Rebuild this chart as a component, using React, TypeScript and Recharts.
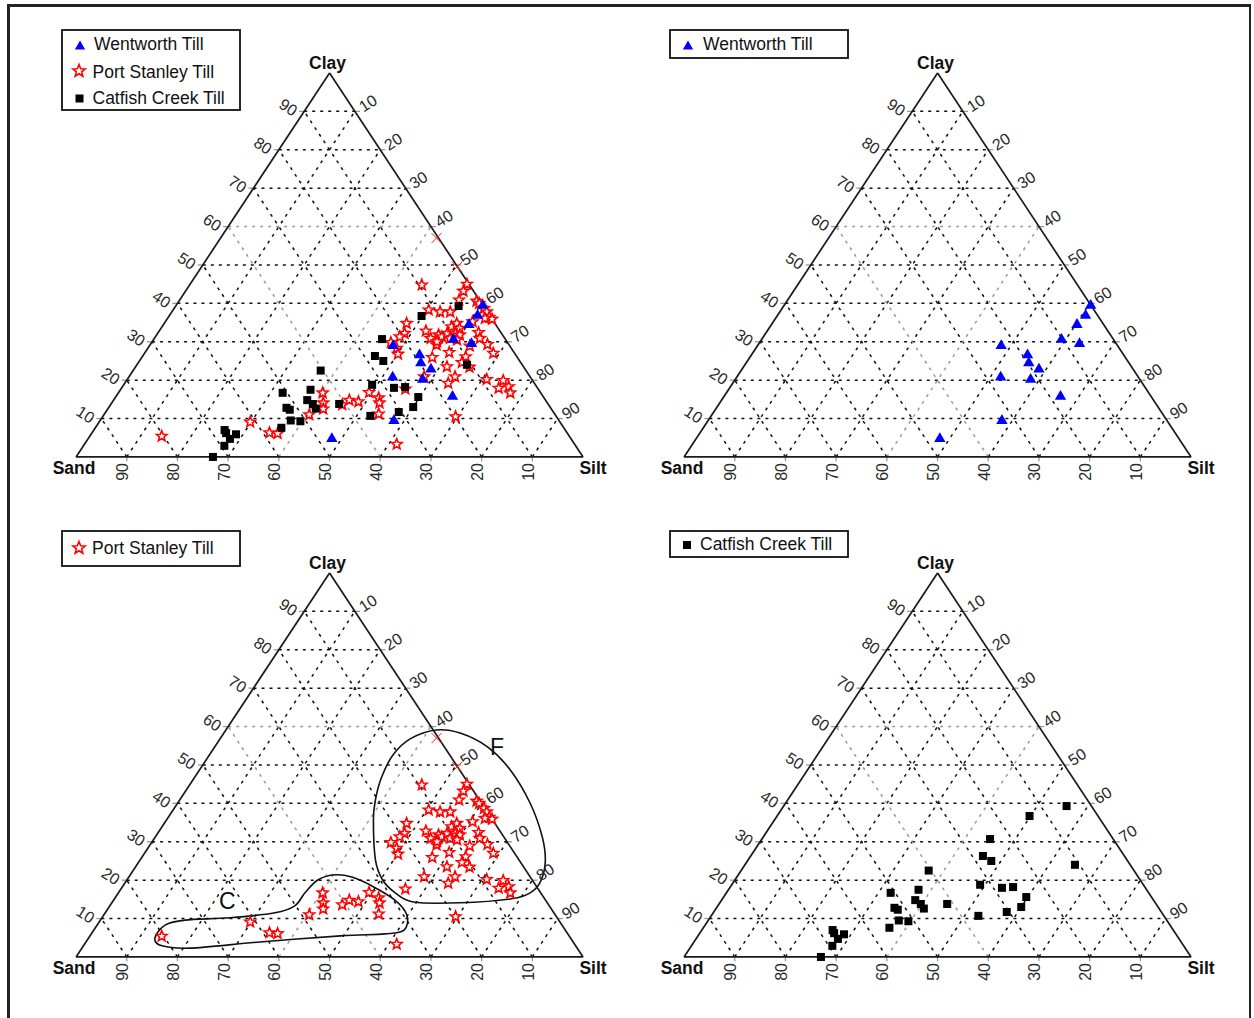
import React from 'react';
import { ScatterChart, Scatter, XAxis, YAxis, ReferenceLine } from 'recharts';

const FONT = '"Liberation Sans", Arial, Helvetica, sans-serif';

// ---------- data (ternary: [silt %, clay %]; sand = 100 - silt - clay) ----------
const GRID_STEPS = [10, 20, 30, 40, 50, 60, 70, 80, 90];
const CORNER_NAMES = ['Clay', 'Sand', 'Silt'];
const SERIES_NAMES = ['Wentworth Till', 'Port Stanley Till', 'Catfish Creek Till'];

const wentworth = [
  [60.4, 39.6], [60.7, 37.0], [60.2, 34.6], [59.1, 30.7], [63.2, 29.6], [48.0, 29.1], [54.4, 26.7],
  [55.7, 24.6], [58.5, 23.0], [52.0, 20.9], [58.2, 20.3], [66.3, 15.9], [57.9, 9.6], [48.0, 4.9],
];

const catfishCreek = [
  [55.8, 39.3], [49.8, 36.7], [45.0, 30.7], [45.8, 26.3], [48.1, 25.0], [65.1, 24.0], [37.0, 22.5],
  [49.0, 18.8], [53.7, 18.0], [55.8, 18.2], [59.7, 15.6], [45.0, 13.8], [60.0, 13.0], [57.8, 11.7],
  [52.7, 10.7], [32.4, 16.7], [37.5, 17.5], [38.2, 14.8], [39.8, 13.8], [41.0, 12.6], [35.1, 12.8],
  [36.0, 12.3], [37.6, 9.5], [39.6, 9.3], [36.7, 7.6], [25.8, 7.0], [26.5, 6.2], [28.6, 5.9],
  [28.0, 4.7], [27.8, 2.9], [27.0, 0.0],
];

const portStanley = [
  [54.6, 45.0], [54.8, 43.2], [55.1, 40.9], [45.8, 44.8], [58.7, 40.6], [59.5, 40.0], [61.1, 38.7],
  [62.1, 37.8], [63.3, 36.4], [64.1, 35.9], [62.6, 36.1], [50.4, 38.3], [52.9, 37.8], [54.9, 37.8],
  [60.6, 35.2], [47.8, 34.8], [48.7, 32.2], [48.2, 31.3], [52.6, 32.8], [54.5, 30.9], [55.6, 31.8],
  [56.5, 31.3], [57.1, 32.2], [57.1, 33.9], [57.7, 34.8], [58.9, 33.5], [58.7, 32.2], [59.8, 31.8],
  [58.3, 30.9], [59.9, 30.5], [56.5, 29.2], [56.2, 30.0], [47.2, 29.8], [49.1, 28.3], [50.1, 26.8],
  [63.2, 28.9], [63.2, 32.4], [64.2, 30.9], [66.5, 29.3], [68.8, 27.0], [60.0, 27.2], [57.3, 25.9],
  [63.8, 26.1], [63.8, 24.6], [65.9, 23.4], [61.4, 23.5], [58.2, 20.9], [64.3, 20.9], [63.8, 19.2],
  [56.1, 17.7], [70.9, 20.2], [74.3, 19.9], [74.4, 17.9], [76.2, 18.3], [77.3, 16.7], [69.6, 10.5],
  [14.2, 5.4], [29.8, 9.1], [35.0, 6.3], [36.7, 6.1], [40.5, 11.0], [40.3, 16.7], [41.7, 14.1],
  [42.5, 12.5], [45.7, 13.6], [46.5, 14.8], [48.5, 14.4], [49.4, 16.8], [52.0, 15.4], [52.8, 14.1],
  [54.1, 11.2], [61.6, 3.3],
];

const portStanleyEdge = [[42.6, 57.0], [50.4, 49.5]];

const contourF = [
  [41.5, 59.1], [46.6, 58.3], [53.8, 54.7], [61.3, 48.7], [69.5, 40.1], [76.3, 31.3], [80.2, 24.7],
  [81.8, 19.5], [81.2, 16.7], [78.1, 15.1], [68.7, 14.1], [59.4, 14.3], [54.6, 16.7], [50.4, 20.1],
  [46.4, 25.3], [40.8, 35.7], [38.6, 40.9], [36.9, 46.6], [36.2, 52.6], [37.5, 56.8],
];

const contourC = [
  [13.1, 4.9], [13.4, 8.3], [16.7, 9.6], [25.3, 10.2], [33.5, 11.5], [36.5, 13.3], [36.8, 16.7],
  [37.7, 20.1], [40.4, 21.4], [44.0, 20.8], [49.1, 18.5], [55.5, 14.8], [59.8, 10.9], [61.2, 7.0],
  [57.9, 6.0], [49.4, 5.5], [34.3, 3.9], [21.3, 2.3], [15.5, 2.9],
];

const zoneLabels = [{ name: 'F', silt: 55.7, clay: 54.7 }, { name: 'C', silt: 22.6, clay: 14.45 }];

// ---------- geometry ----------
const PX = 5.07; // px per x unit
const PY = 3.84; // px per y unit
const CHART_W = 630;
const CHART_H = 500;
const X_MIN = -15;
const X_MAX = X_MIN + CHART_W / PX;
const Y_MAX = 119;
const Y_MIN = Y_MAX - CHART_H / PY;

const toXY = (arr: number[][]) => arr.map(([silt, clay]) => ({ x: silt + clay / 2, y: clay }));

type Seg = { key: string; a: { x: number; y: number }; b: { x: number; y: number }; grey: boolean };
const GRID_LINES: Seg[] = [];
GRID_STEPS.forEach((c) => GRID_LINES.push({ key: 'c' + c, a: { x: c / 2, y: c }, b: { x: 100 - c / 2, y: c }, grey: c === 60 }));
GRID_STEPS.forEach((s) => GRID_LINES.push({ key: 's' + s, a: { x: s, y: 0 }, b: { x: s + (100 - s) / 2, y: 100 - s }, grey: s === 40 }));
GRID_STEPS.forEach((a) => GRID_LINES.push({ key: 'a' + a, a: { x: 100 - a, y: 0 }, b: { x: (100 - a) / 2, y: 100 - a }, grey: a === 40 }));

const TICK_MARKS: Seg[] = [];
GRID_STEPS.forEach((c) => TICK_MARKS.push({ key: 'tl' + c, a: { x: c / 2 - 1, y: c }, b: { x: c / 2, y: c }, grey: true }));
GRID_STEPS.forEach((c) => TICK_MARKS.push({ key: 'tr' + c, a: { x: 100 - c / 2, y: c }, b: { x: 100 - c / 2 + 1, y: c }, grey: true }));
GRID_STEPS.forEach((a) => TICK_MARKS.push({ key: 'tb' + a, a: { x: 100 - a, y: 0 }, b: { x: 100 - a, y: -1.1 }, grey: true }));

const EDGES = [
  [{ x: 0, y: 0 }, { x: 100, y: 0 }],
  [{ x: 0, y: 0 }, { x: 50, y: 100 }],
  [{ x: 100, y: 0 }, { x: 50, y: 100 }],
];

const leftLabelData = GRID_STEPS.map((c) => ({ x: c / 2, y: c, txt: String(c) }));
const rightLabelData = GRID_STEPS.map((s) => ({ x: s + (100 - s) / 2, y: 100 - s, txt: String(s) }));
const bottomLabelData = GRID_STEPS.map((a) => ({ x: 100 - a, y: 0, txt: String(a) }));
const cornerData = [
  { x: 50, y: 100, txt: CORNER_NAMES[0] },
  { x: 0, y: 0, txt: CORNER_NAMES[1] },
  { x: 100, y: 0, txt: CORNER_NAMES[2] },
];
const CORNER_OFFSET: Record<string, [number, number]> = { Clay: [-2, -10], Sand: [-2, 11], Silt: [10, 11] };
const zoneLabelData = zoneLabels.map((z) => ({ x: z.silt + z.clay / 2, y: z.clay, txt: z.name }));

// ---------- shapes ----------
function starPath(cx: number, cy: number, R: number, r: number) {
  let d = '';
  for (let i = 0; i < 10; i++) {
    const ang = -Math.PI / 2 + (i * Math.PI) / 5;
    const rad = i % 2 === 0 ? R : r;
    d += (i === 0 ? 'M' : 'L') + (cx + rad * Math.cos(ang)).toFixed(2) + ',' + (cy + rad * Math.sin(ang)).toFixed(2);
  }
  return d + 'Z';
}
const triPath = (cx: number, cy: number, s = 1) =>
  `M${cx},${cy - 6 * s}L${cx + 5.7 * s},${cy + 3.8 * s}L${cx - 5.7 * s},${cy + 3.8 * s}Z`;

const TriangleShape = (p: any) => (p.cx == null ? <g /> : <path d={triPath(p.cx, p.cy)} fill="#0000ff" />);
const StarShape = (p: any) =>
  p.cx == null ? <g /> : <path d={starPath(p.cx, p.cy, 5.6, 2.4)} fill="#ffffff" stroke="#ff0000" strokeWidth={1.6} strokeLinejoin="miter" />;
const SquareShape = (p: any) => (p.cx == null ? <g /> : <rect x={p.cx - 4} y={p.cy - 4} width={8} height={8} fill="#000" />);
const CrossShape = (p: any) =>
  p.cx == null ? (
    <g />
  ) : (
    <g stroke="#ff2020" strokeWidth={1}>
      <line x1={p.cx - 5} y1={p.cy - 5} x2={p.cx + 5} y2={p.cy + 5} />
      <line x1={p.cx - 5} y1={p.cy + 5} x2={p.cx + 5} y2={p.cy - 5} />
    </g>
  );
const NoShape = () => <g />;

const textShape = (dx: number, dy: number, rot: number, size: number, weight: string, fill: string) => (p: any) => {
  if (p.cx == null) return <g />;
  const txt = (p.payload && p.payload.txt) || p.txt;
  const tx = p.cx + dx;
  const ty = p.cy + dy;
  return (
    <text
      x={tx}
      y={ty}
      transform={rot ? `rotate(${rot} ${tx} ${ty})` : undefined}
      textAnchor="middle"
      dominantBaseline="central"
      fontSize={size}
      fontWeight={weight}
      fill={fill}
      fontFamily={FONT}
    >
      {txt}
    </text>
  );
};
const CornerShape = (p: any) => {
  if (p.cx == null) return <g />;
  const txt = (p.payload && p.payload.txt) || p.txt;
  const off = CORNER_OFFSET[txt] || [0, 0];
  return textShape(off[0], off[1], 0, 17.5, 'bold', '#111')(p);
};

const closedCatmull = (context: any) => {
  let pts: number[][] = [];
  return {
    areaStart() {},
    areaEnd() {},
    lineStart() {
      pts = [];
    },
    point(x: number, y: number) {
      pts.push([+x, +y]);
    },
    lineEnd() {
      const n = pts.length;
      if (n < 3) return;
      context.moveTo(pts[0][0], pts[0][1]);
      for (let i = 0; i < n; i++) {
        const p0 = pts[(i - 1 + n) % n];
        const p1 = pts[i];
        const p2 = pts[(i + 1) % n];
        const p3 = pts[(i + 2) % n];
        context.bezierCurveTo(
          p1[0] + (p2[0] - p0[0]) / 6,
          p1[1] + (p2[1] - p0[1]) / 6,
          p2[0] - (p3[0] - p1[0]) / 6,
          p2[1] - (p3[1] - p1[1]) / 6,
          p2[0],
          p2[1]
        );
      }
      context.closePath();
    },
  };
};

// ---------- panel ----------
type PanelProps = { left: number; top: number; wt?: boolean; ps?: boolean; cc?: boolean; zones?: boolean };

function Panel({ left, top, wt, ps, cc, zones }: PanelProps) {
  return (
    <div style={{ position: 'absolute', left, top, width: CHART_W, height: CHART_H }}>
      <ScatterChart width={CHART_W} height={CHART_H} margin={{ top: 0, right: 0, bottom: 0, left: 0 }}>
        <XAxis type="number" dataKey="x" domain={[X_MIN, X_MAX]} allowDataOverflow hide />
        <YAxis type="number" dataKey="y" domain={[Y_MIN, Y_MAX]} allowDataOverflow hide />
        {GRID_LINES.filter((g) => !g.grey).map((g) => (
          <ReferenceLine key={g.key} segment={[g.a, g.b]} stroke="#111" strokeWidth={1.5} strokeDasharray="3 5" ifOverflow="visible" />
        ))}
        {GRID_LINES.filter((g) => g.grey).map((g) => (
          <ReferenceLine key={g.key} segment={[g.a, g.b]} stroke="#999" strokeWidth={1.5} strokeDasharray="3 5" ifOverflow="visible" />
        ))}
        {TICK_MARKS.map((g) => (
          <ReferenceLine key={g.key} segment={[g.a, g.b]} stroke="#999" strokeWidth={1.3} ifOverflow="visible" />
        ))}
        {EDGES.map((e, i) => (
          <ReferenceLine key={'e' + i} segment={e} stroke="#1a1a1a" strokeWidth={1.7} ifOverflow="visible" />
        ))}
        {zones && (
          <Scatter
            data={toXY(contourF)}
            fill="none"
            line={{ stroke: '#111', strokeWidth: 1.6, fill: 'none' }}
            lineJointType={closedCatmull as any}
            shape={NoShape}
            isAnimationActive={false}
          />
        )}
        {zones && (
          <Scatter
            data={toXY(contourC)}
            fill="none"
            line={{ stroke: '#111', strokeWidth: 1.6, fill: 'none' }}
            lineJointType={closedCatmull as any}
            shape={NoShape}
            isAnimationActive={false}
          />
        )}
        {ps && <Scatter data={toXY(portStanley)} shape={StarShape} isAnimationActive={false} />}
        {ps && <Scatter data={toXY(portStanleyEdge)} shape={CrossShape} isAnimationActive={false} />}
        {cc && <Scatter data={toXY(catfishCreek)} shape={SquareShape} isAnimationActive={false} />}
        {wt && <Scatter data={toXY(wentworth)} shape={TriangleShape} isAnimationActive={false} />}
        <Scatter data={leftLabelData} shape={textShape(-16, -4, 33, 16, 'normal', '#2a2a2a')} isAnimationActive={false} />
        <Scatter data={rightLabelData} shape={textShape(13, -8, -33, 16, 'normal', '#2a2a2a')} isAnimationActive={false} />
        <Scatter data={bottomLabelData} shape={textShape(-4, 15, -90, 16, 'normal', '#2a2a2a')} isAnimationActive={false} />
        <Scatter data={cornerData} shape={CornerShape} isAnimationActive={false} />
        {zones && <Scatter data={zoneLabelData} shape={textShape(0, 0, 0, 23, 'normal', '#111')} isAnimationActive={false} />}
      </ScatterChart>
    </div>
  );
}

// ---------- legend ----------
type LegendItem = { kind: 'tri' | 'star' | 'sq'; label: string; sx: number; sy: number; tx: number; ty: number };
function LegendBox({ x, y, w, h, items }: { x: number; y: number; w: number; h: number; items: LegendItem[] }) {
  return (
    <svg style={{ position: 'absolute', left: 0, top: 0, overflow: 'visible' }} width={1} height={1}>
      <rect x={x} y={y} width={w} height={h} fill="#fff" stroke="#111" strokeWidth={1.8} />
      {items.map((it) => (
        <g key={it.label}>
          {it.kind === 'tri' && <path d={triPath(it.sx, it.sy, 0.9)} fill="#0000ff" />}
          {it.kind === 'star' && <path d={starPath(it.sx, it.sy, 6.5, 2.8)} fill="#fff" stroke="#ff0000" strokeWidth={1.6} />}
          {it.kind === 'sq' && <rect x={it.sx - 4} y={it.sy - 4} width={8} height={8} fill="#000" />}
          <text x={it.tx} y={it.ty} dominantBaseline="central" fontSize={17.5} fontFamily={FONT} fill="#111">
            {it.label}
          </text>
        </g>
      ))}
    </svg>
  );
}

export default function App() {
  return (
    <div style={{ position: 'absolute', left: 0, top: 0, width: 1254, height: 1018, background: '#fff', overflow: 'hidden' }}>
      <Panel left={0} top={0} wt ps cc />
      <Panel left={608} top={0} wt />
      <Panel left={0} top={500} ps zones />
      <Panel left={608} top={500} cc />
      <LegendBox
        x={62}
        y={30}
        w={178}
        h={80}
        items={[
          { kind: 'tri', label: SERIES_NAMES[0], sx: 80, sy: 46, tx: 94, ty: 44 },
          { kind: 'star', label: SERIES_NAMES[1], sx: 79, sy: 71, tx: 92.5, ty: 71.5 },
          { kind: 'sq', label: SERIES_NAMES[2], sx: 79.5, sy: 98.5, tx: 92.5, ty: 97.5 },
        ]}
      />
      <LegendBox x={670} y={30} w={178} h={28} items={[{ kind: 'tri', label: SERIES_NAMES[0], sx: 688, sy: 46, tx: 703, ty: 44 }]} />
      <LegendBox x={62} y={531} w={178} h={35} items={[{ kind: 'star', label: SERIES_NAMES[1], sx: 79, sy: 548, tx: 92, ty: 548 }]} />
      <LegendBox x={670} y={531} w={178} h={26} items={[{ kind: 'sq', label: SERIES_NAMES[2], sx: 687, sy: 545, tx: 700, ty: 544 }]} />
      <div
        style={{
          position: 'absolute',
          left: 7,
          top: 4,
          width: 1244,
          height: 1014,
          borderTop: '3px solid #222',
          borderLeft: '3px solid #222',
          borderRight: '2px solid #222',
          boxSizing: 'border-box',
          pointerEvents: 'none',
        }}
      />
    </div>
  );
}
